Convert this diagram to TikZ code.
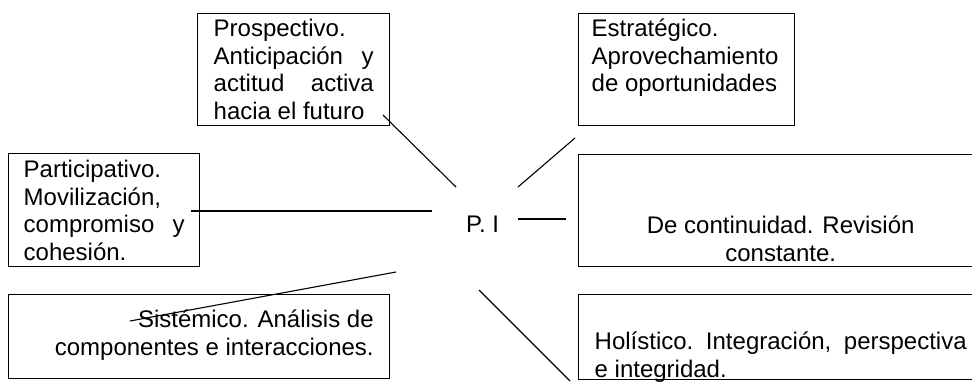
\documentclass[tikz,border=0pt]{standalone}
\usepackage{fontspec}
\setmainfont{Liberation Sans}
\begin{document}
\begin{tikzpicture}[x=1pt,y=-1pt,
  box/.style={draw, line width=1.4pt, anchor=north west, inner ysep=0pt, inner xsep=16pt,
              font=\fontsize{24}{27.6}\selectfont},
  conn/.style={line width=1.1pt},
  lbl/.style={font=\fontsize{24}{27.6}\selectfont, inner sep=0pt, anchor=base west}]
\clip (0,0) rectangle (972,381);
\fill[white] (0,0) rectangle (972,381);
% boxes
\node[box] (pro) at (197,13) {\parbox[c][112pt][t]{160pt}{\rule{0pt}{23pt}Prospectivo.\\
  Anticipación\hfill y\\ actitud\hfill activa\\ hacia el futuro}};
\node[box, inner xsep=13pt] (est) at (578,13) {\parbox[c][112pt][t]{190pt}{\rule{0pt}{23pt}Estratégico.\\
  Aprovechamiento\\ de oportunidades}};
\node[box, inner xsep=15pt] (par) at (8,153) {\parbox[c][113pt][t]{161pt}{\rule{0pt}{24pt}Participativo.\\
  Movilización,\\ compromiso\hfill y\\ cohesión.}};
\node[box] (sis) at (8,294) {\parbox[c][84pt][t]{349pt}{\raggedleft\rule{0pt}{33pt}Sistémico. Análisis de\\
  componentes e interacciones.\par}};
\node[box] (con) at (578,154) {\parbox[c][112pt][t]{372pt}{\centering\rule{0pt}{79pt}De continuidad. Revisión\\
  constante.\par}};
\node[box] (hol) at (578,294) {\parbox[c][85pt][t]{372pt}{\rule{0pt}{55pt}Holístico.\hfill Integración,\hfill perspectiva\\
  e integridad.}};
% centre label
\node[lbl] (pi) at (466,232) {P. I};
% connector ends
\coordinate (a1) at (383,115); \coordinate (a2) at (456,187);
\coordinate (b1) at (575,138); \coordinate (b2) at (518,187);
\coordinate (c1) at (191,211); \coordinate (c2) at (432,211);
\coordinate (d1) at (518,219); \coordinate (d2) at (566,219);
\coordinate (e1) at (130,321); \coordinate (e2) at (396,272);
\coordinate (f1) at (479,290); \coordinate (f2) at (570,381);
\draw[conn] (a1) -- (a2);
\draw[conn] (b1) -- (b2);
\draw[conn] (c1) -- (c2);
\draw[conn] (d1) -- (d2);
\draw[conn] (e1) -- (e2);
\draw[conn] (f1) -- (f2);
\end{tikzpicture}
\end{document}
